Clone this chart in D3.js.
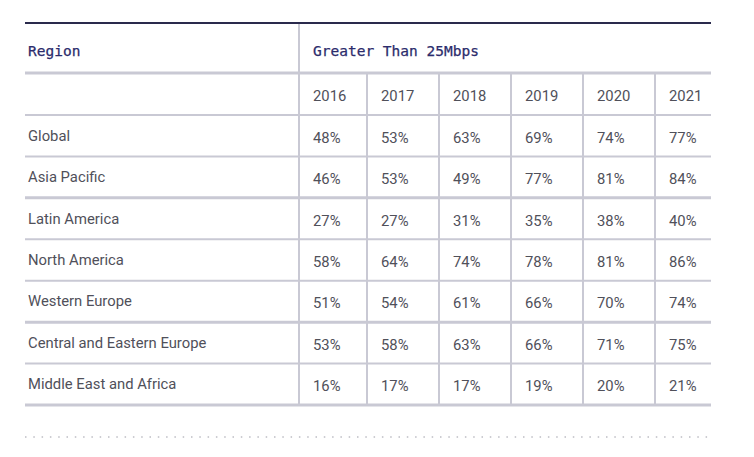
<!DOCTYPE html>
<html><head><meta charset="utf-8">
<script src="https://cdn.jsdelivr.net/npm/d3@7"></script>
<style>body{margin:0;background:#fff;}</style>
</head><body><svg id="c" width="754" height="457"></svg>
<script>
const regions = ["Global","Asia Pacific","Latin America","North America","Western Europe","Central and Eastern Europe","Middle East and Africa"];
const years = ["2016","2017","2018","2019","2020","2021"];
const v2016 = [48,46,27,58,51,53,16];
const v2017 = [53,53,27,64,54,58,17];
const v2018 = [63,49,31,74,61,63,17];
const v2019 = [69,77,35,78,66,66,19];
const v2020 = [74,81,38,81,70,71,20];
const v2021 = [77,84,40,86,74,75,21];
const series = [v2016,v2017,v2018,v2019,v2020,v2021];
const headerLeft = "Region";
const headerRight = "Greater Than 25Mbps";

(function(){
const svg = d3.select("#c");
const L = 25, R = 711, sep = 299, tY = 23, hdrBot = 73, yrBot = 115, bot = 405;
const y = d3.scaleBand().domain(regions).range([yrBot, bot]);
const x = d3.scaleBand().domain(years).range([295, 727]);
const colLeft = d => Math.max(x(d), sep);
const lineCol = "#c9c9d4";
const textCol = "#50505a";
const navy = "#2c2c6c";
const fs = 14.8;

const thick = new Set(["Asia Pacific","Western Europe","Middle East and Africa"]);
svg.append("line").attr("x1",L).attr("x2",R).attr("y1",hdrBot).attr("y2",hdrBot).attr("stroke",lineCol).attr("stroke-width",3);
svg.append("line").attr("x1",L).attr("x2",R).attr("y1",yrBot).attr("y2",yrBot).attr("stroke",lineCol).attr("stroke-width",2);
svg.selectAll("line.row").data(regions).join("line").attr("class","row")
  .attr("x1",L).attr("x2",R)
  .attr("y1",d=>y(d)+y.bandwidth()).attr("y2",d=>y(d)+y.bandwidth())
  .attr("stroke",lineCol).attr("stroke-width",d=>thick.has(d)?3:2);

svg.append("line").attr("x1",sep).attr("x2",sep).attr("y1",tY).attr("y2",bot).attr("stroke",lineCol).attr("stroke-width",2);
svg.selectAll("line.col").data(years.slice(1)).join("line").attr("class","col")
  .attr("x1",d=>x(d)).attr("x2",d=>x(d)).attr("y1",hdrBot).attr("y2",bot)
  .attr("stroke",lineCol).attr("stroke-width",2);

svg.append("line").attr("x1",L).attr("x2",R).attr("y1",tY).attr("y2",tY).attr("stroke","#2a2a4c").attr("stroke-width",2);

const mono = "'DejaVu Sans Mono', monospace";
svg.selectAll("text.hd").data([headerLeft, headerRight]).join("text").attr("class","hd")
  .attr("x",(d,i)=>i===0?28:sep+14).attr("y",(tY+hdrBot)/2+3).attr("dominant-baseline","central")
  .attr("font-family",mono).attr("font-size",14.5).attr("fill",navy)
  .attr("stroke",navy).attr("stroke-width",0.25).text(d=>d);

const sans = "Roboto, sans-serif";
svg.selectAll("text.yr").data(years).join("text").attr("class","yr")
  .attr("x",d=>colLeft(d)+14).attr("y",(hdrBot+yrBot)/2+2).attr("dominant-baseline","central")
  .attr("font-family",sans).attr("font-size",fs).attr("fill",textCol).text(d=>d);

svg.selectAll("text.rg").data(regions).join("text").attr("class","rg")
  .attr("x",28).attr("y",d=>y(d)+y.bandwidth()/2).attr("dominant-baseline","central")
  .attr("font-family",sans).attr("font-size",fs).attr("fill",textCol).text(d=>d);

const cells = [];
series.forEach((s,j)=>s.forEach((v,i)=>cells.push({r:regions[i],yr:years[j],v})));
svg.selectAll("text.cell").data(cells).join("text").attr("class","cell")
  .attr("x",d=>colLeft(d.yr)+14).attr("y",d=>y(d.r)+y.bandwidth()/2+2).attr("dominant-baseline","central")
  .attr("font-family",sans).attr("font-size",fs).attr("fill",textCol).text(d=>d.v+"%");

svg.append("line").attr("x1",L).attr("x2",R).attr("y1",437).attr("y2",437)
  .attr("stroke","#bdbdc4").attr("stroke-width",1.5).attr("stroke-dasharray","1.5 6.8");
})();
</script></body></html>
